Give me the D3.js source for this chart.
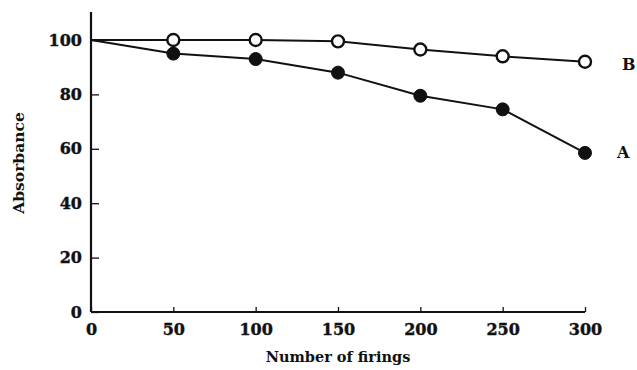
<!DOCTYPE html>
<html>
<head>
<meta charset="utf-8">
<script src="https://cdn.jsdelivr.net/npm/d3@7"></script>
<style>
  body { margin: 0; background: #fff; }
  svg text { font-family: "DejaVu Serif", serif; font-weight: bold; fill: #111; }
</style>
</head>
<body>
<svg id="chart" width="637" height="370"></svg>
<script>
var firings = [0, 50, 100, 150, 200, 250, 300];
var seriesA = [100, 95, 93, 88, 79.5, 74.5, 58.5];
var seriesB = [100, 100, 100, 99.5, 96.5, 94, 92];
var xTicks = [0, 50, 100, 150, 200, 250, 300];
var yTicks = [0, 20, 40, 60, 80, 100];

var svg = d3.select('#chart');

var x = d3.scaleLinear().domain([0, 300]).range([91, 585]);
var y = d3.scaleLinear().domain([0, 100]).range([312, 40]);

// y axis: ticks point inward
var yAxis = d3.axisLeft(y)
    .tickValues(yTicks)
    .tickSizeInner(-8)
    .tickSizeOuter(0)
    .tickPadding(9);

var gy = svg.append('g')
    .attr('transform', 'translate(' + x(0) + ',0)')
    .call(yAxis);
gy.select('.domain').remove();
gy.selectAll('.tick line').attr('stroke', '#111').attr('stroke-width', 1.3);
gy.selectAll('.tick text')
    .style('font-size', '16px')
    .attr('fill', '#111')
    .attr('stroke', '#111')
    .attr('stroke-width', 0.4);

svg.append('line')
    .attr('x1', x(0)).attr('x2', x(0))
    .attr('y1', y(0)).attr('y2', y(110.3))
    .attr('stroke', '#111')
    .attr('stroke-width', 2.2);

var xAxis = d3.axisBottom(x)
    .tickValues(xTicks)
    .tickSizeInner(-5)
    .tickSizeOuter(0)
    .tickPadding(12);

var gx = svg.append('g')
    .attr('transform', 'translate(0,' + y(0) + ')')
    .call(xAxis);
gx.select('.domain').remove();
gx.selectAll('.tick line').attr('stroke', '#111').attr('stroke-width', 1.3);
gx.selectAll('.tick text')
    .style('font-size', '16px')
    .attr('fill', '#111')
    .attr('stroke', '#111')
    .attr('stroke-width', 0.4);

svg.append('line')
    .attr('x1', x(0)).attr('x2', x(300))
    .attr('y1', y(0)).attr('y2', y(0))
    .attr('stroke', '#111')
    .attr('stroke-width', 2);

// axis titles
svg.append('text')
    .attr('x', (x(0) + x(300)) / 2)
    .attr('y', 362)
    .attr('text-anchor', 'middle')
    .style('font-size', '14.5px')
    .text('Number of firings');

svg.append('text')
    .attr('transform', 'translate(24,163) rotate(-90)')
    .attr('text-anchor', 'middle')
    .style('font-size', '15.5px')
    .text('Absorbance');

var line = d3.line()
    .x(function(d) { return x(d[0]); })
    .y(function(d) { return y(d[1]); });

var series = [
    { name: 'A', values: seriesA, filled: true },
    { name: 'B', values: seriesB, filled: false }
];

series.forEach(function(s) {
    var pts = firings.map(function(f, i) { return [f, s.values[i]]; });

    svg.append('path')
        .datum(pts)
        .attr('d', line)
        .attr('fill', 'none')
        .attr('stroke', '#111')
        .attr('stroke-width', 2);

    svg.append('g').selectAll('circle')
        .data(pts.slice(1))
        .enter()
        .append('circle')
        .attr('cx', function(d) { return x(d[0]); })
        .attr('cy', function(d) { return y(d[1]); })
        .attr('r', s.filled ? 6.5 : 6)
        .attr('fill', s.filled ? '#111' : '#fff')
        .attr('stroke', '#111')
        .attr('stroke-width', s.filled ? 1 : 2.4);

    var last = pts[pts.length - 1];
    svg.append('text')
        .attr('x', x(last[0]) + (s.name === 'A' ? 32 : 37))
        .attr('y', y(last[1]) + (s.name === 'A' ? 1 : 4))
        .attr('text-anchor', 'start')
        .attr('dominant-baseline', 'middle')
        .style('font-size', '16px')
        .text(s.name);
});
</script>
</body>
</html>
